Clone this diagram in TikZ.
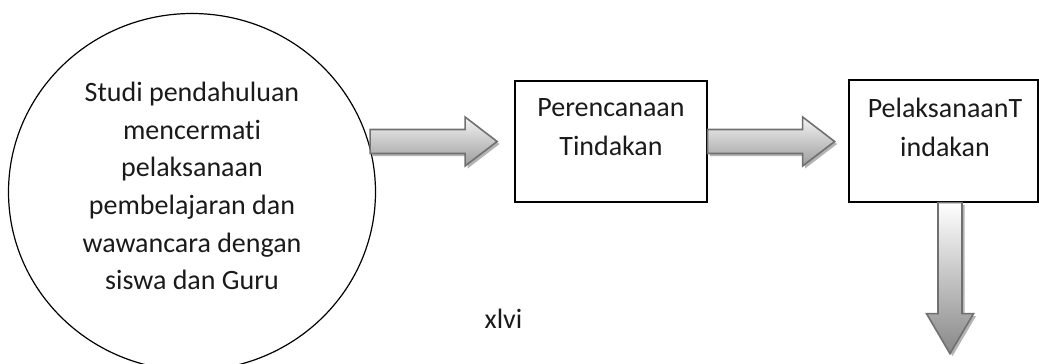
\documentclass[tikz,border=0pt]{standalone}
\usepackage{fontspec}
\setmainfont{Carlito}[Ligatures={NoCommon}]
\usetikzlibrary{shapes.geometric}

\definecolor{arrowline}{HTML}{707070}
\definecolor{arrowshadow}{HTML}{B4B4B4}
\definecolor{harrowtop}{HTML}{F4F4F4}
\definecolor{harrowbot}{HTML}{9C9C9C}
\definecolor{varrowtop}{HTML}{FFFFFF}
\definecolor{varrowbot}{HTML}{888888}
\definecolor{inktext}{HTML}{1A1A1A}

\tikzset{
  label28/.style={font=\fontsize{28}{37.6}\selectfont, text=inktext, inner sep=0pt, align=center},
  stepbox/.style={draw=black, line width=1.3pt, inner sep=0pt},
  startoval/.style={ellipse, draw=black, line width=1.2pt, inner sep=0pt},
  arrowbody/.style={draw=arrowline, line width=1.6pt, line join=miter},
  arrowshade/.style={fill=arrowshadow},
}

\begin{document}
\begin{tikzpicture}[x=1pt, y=-1pt]
  \useasboundingbox (0,0) rectangle (1039,364);
  \clip (0,0) rectangle (1039,364);

  % starting study, drawn as a large oval
  \node[startoval, minimum width=367pt, minimum height=357pt] (study) at (192,192) {};
  \node[label28, font=\fontsize{28}{37.6}\selectfont] (studytext) at (192,186)
    {Studi pendahuluan\\mencermati\\pelaksanaan\\pembelajaran dan\\wawancara dengan\\siswa dan Guru};

  % the two action boxes
  \node[stepbox, minimum width=192pt, minimum height=121pt] (plan) at (611,141.5) {};
  \node[label28, font=\fontsize{28}{39}\selectfont] (plantext) at (611,127.5) {Perencanaan\\Tindakan};

  \node[stepbox, minimum width=189pt, minimum height=122pt] (act) at (943.5,141) {};
  \node[label28, font=\fontsize{28}{39}\selectfont] (acttext) at (945,127.5) {PelaksanaanT\\indakan};

  % page number
  \node[label28, anchor=base] (pagenum) at (503.5,328) {xlvi};

  % tails of the block arrows
  \coordinate (tailA) at ([xshift=-6pt]study.east |- plan.west);
  \coordinate (tailB) at (plan.east);
  \coordinate (tailC) at ([xshift=6.5pt]act.south);

  % block arrow: study -> plan
  \begin{scope}[shift={(tailA)}]
    \fill[arrowshade, shift={(2.5,2.5)}]
      (0,-12) -- (95,-12) -- (95,-24.5) -- (127,0) -- (95,24.5) -- (95,12) -- (0,12) -- cycle;
    \shade[arrowbody, top color=harrowtop, bottom color=harrowbot]
      (0,-12) -- (95,-12) -- (95,-24.5) -- (127,0) -- (95,24.5) -- (95,12) -- (0,12) -- cycle;
  \end{scope}

  % block arrow: plan -> act
  \begin{scope}[shift={(tailB)}]
    \fill[arrowshade, shift={(2.5,2.5)}]
      (0,-12) -- (95,-12) -- (95,-24.5) -- (127,0) -- (95,24.5) -- (95,12) -- (0,12) -- cycle;
    \shade[arrowbody, top color=harrowtop, bottom color=harrowbot]
      (0,-12) -- (95,-12) -- (95,-24.5) -- (127,0) -- (95,24.5) -- (95,12) -- (0,12) -- cycle;
  \end{scope}

  % block arrow: act -> downwards
  \begin{scope}[shift={(tailC)}]
    \fill[arrowshade, shift={(2.5,2.5)}]
      (-12,0) -- (12,0) -- (12,111) -- (23.5,111) -- (0,151) -- (-23.5,111) -- (-12,111) -- cycle;
    \shade[arrowbody, top color=varrowtop, bottom color=varrowbot]
      (-12,0) -- (12,0) -- (12,111) -- (23.5,111) -- (0,151) -- (-23.5,111) -- (-12,111) -- cycle;
  \end{scope}
\end{tikzpicture}
\end{document}
